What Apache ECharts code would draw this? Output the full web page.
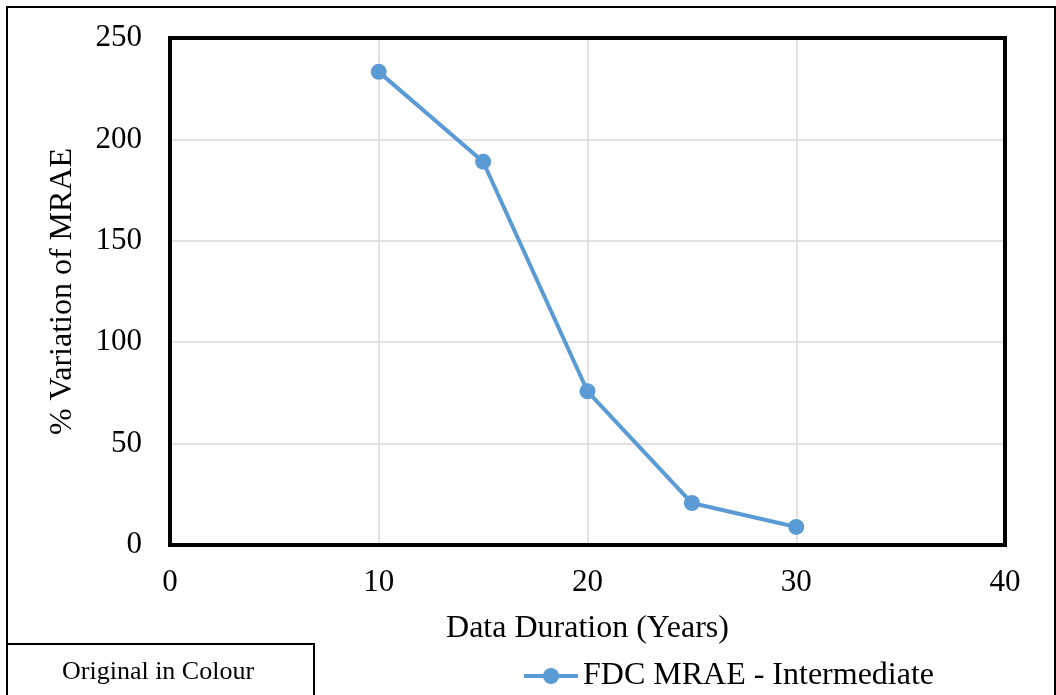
<!DOCTYPE html>
<html>
<head>
<meta charset="utf-8">
<script src="https://cdn.jsdelivr.net/npm/echarts@6/dist/echarts.min.js"></script>
<style>html,body{margin:0;padding:0;background:#fff;}#c{width:1056px;height:695px;}</style>
</head>
<body>
<div id="c"></div>
<script>
var years = [10, 15, 20, 25, 30];
var mraeValues = [233.3, 189.0, 75.8, 20.7, 8.9];
var seriesName = 'FDC MRAE - Intermediate';
var xTitle = 'Data Duration (Years)';
var yTitle = '% Variation of MRAE';
var noteText = 'Original in Colour';

var font = 'Liberation Serif, Times New Roman, serif';
var chart = echarts.init(document.getElementById('c'));
chart.setOption({
  animation: false,
  backgroundColor: '#fff',
  grid: {left: 170, top: 38, right: 51, bottom: 150, show: true, borderColor: '#000', borderWidth: 4, backgroundColor: 'transparent', z: 3},
  legend: {
    data: [seriesName], left: 517, top: 655, itemWidth: 54, itemHeight: 20, itemGap: 4,
    lineStyle: {width: 4},
    textStyle: {fontFamily: font, fontSize: 32, color: '#000'}
  },
  xAxis: {
    type: 'value', min: 0, max: 40, interval: 10,
    name: xTitle, nameLocation: 'middle', nameGap: 68,
    nameTextStyle: {fontFamily: font, fontSize: 32, color: '#000'},
    axisLine: {show: false}, axisTick: {show: false},
    axisLabel: {fontFamily: font, fontSize: 31, color: '#000', margin: 22},
    splitLine: {show: true, lineStyle: {color: '#d9d9d9', width: 1.5}}
  },
  yAxis: {
    type: 'value', min: 0, max: 250, interval: 50,
    name: yTitle, nameLocation: 'middle', nameGap: 91,
    nameTextStyle: {fontFamily: font, fontSize: 32, color: '#000'},
    axisLine: {show: false}, axisTick: {show: false},
    axisLabel: {fontFamily: font, fontSize: 31, color: '#000', margin: 28},
    splitLine: {show: true, lineStyle: {color: '#d9d9d9', width: 1.5}}
  },
  series: [{
    name: seriesName, type: 'line', z: 5,
    data: years.map(function (y, i) { return [y, mraeValues[i]]; }),
    symbol: 'circle', symbolSize: 16,
    lineStyle: {color: '#5b9bd5', width: 4},
    itemStyle: {color: '#5b9bd5'}
  }],
  graphic: [
    {type: 'rect', shape: {x: 7, y: 7, width: 1048, height: 720}, style: {fill: 'none', stroke: '#000', lineWidth: 2}, silent: true},
    {type: 'rect', shape: {x: 7, y: 644, width: 307, height: 80}, style: {fill: '#fff', stroke: '#000', lineWidth: 2}, silent: true},
    {type: 'text', left: 62, top: 659, style: {text: noteText, fontFamily: font, fontSize: 26, fill: '#000'}}
  ]
});
</script>
</body>
</html>
